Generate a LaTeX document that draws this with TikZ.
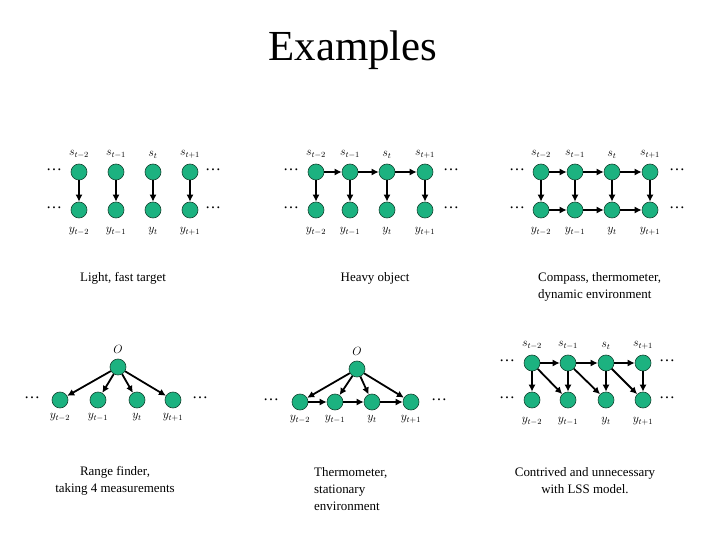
\documentclass[tikz,border=0pt]{standalone}
\usepackage{fontspec}
\setmainfont{Liberation Serif}
\usepackage{xcolor}
\usetikzlibrary{arrows.meta,positioning}
\definecolor{nodegreen}{RGB}{28,178,128}
\definecolor{nodeedge}{RGB}{20,70,50}

\begin{document}
\begin{tikzpicture}[x=1bp,y=-1bp,>={Latex[length=7bp,width=7bp]},
  var/.style={circle,draw=nodeedge,line width=0.6bp,fill=nodegreen,minimum size=16bp,inner sep=0pt},
  lbl/.style={font=\fontsize{12}{13}\selectfont,inner sep=1bp},
  up/.style={label={[lbl,label distance=4bp]above:$#1$}},
  down/.style={label={[lbl,label distance=8bp]below:$#1$}},
  capt/.style={font=\fontsize{13}{17}\selectfont,inner sep=0pt},
  dots/.style={font=\fontsize{16}{16}\selectfont,inner sep=0pt},
  arr/.style={->,line width=1.8bp}]
\useasboundingbox (0,0) rectangle (720,540);
\node[font=\fontsize{43}{50}\selectfont] (title) at (353,50) {Examples};

% light, fast target
\foreach \x/\t [count=\i] in {79/t-2,116/t-1,153/t,190/t+1} {
  \node[var,up={s_{\t}}] (as\i) at (\x,172) {};
  \node[var,down={y_{\t}}] (ay\i) at (\x,210) {};
  \draw[arr] (as\i) -- (ay\i);
}
\node[dots] (adl1) at (54,170) {\dots}; \node[dots] (adr1) at (213,170) {\dots};
\node[dots] (adl2) at (54,208) {\dots}; \node[dots] (adr2) at (213,208) {\dots};
\node[capt] (acap) at (123,278) {Light, fast target};

% heavy object
\foreach \x/\t [count=\i] in {316/t-2,350/t-1,387/t,425/t+1} {
  \node[var,up={s_{\t}}] (bs\i) at (\x,172) {};
  \node[var,down={y_{\t}}] (by\i) at (\x,210) {};
  \draw[arr] (bs\i) -- (by\i);
}
\foreach \i [evaluate=\i as \j using int(\i+1)] in {1,2,3} \draw[arr] (bs\i) -- (bs\j);
\node[dots] (bdl1) at (291,170) {\dots}; \node[dots] (bdr1) at (451,170) {\dots};
\node[dots] (bdl2) at (291,208) {\dots}; \node[dots] (bdr2) at (451,208) {\dots};
\node[capt] (bcap) at (375,278) {Heavy object};

% compass, thermometer
\foreach \x/\t [count=\i] in {541/t-2,575/t-1,612/t,650/t+1} {
  \node[var,up={s_{\t}}] (cs\i) at (\x,172) {};
  \node[var,down={y_{\t}}] (cy\i) at (\x,210) {};
  \draw[arr] (cs\i) -- (cy\i);
}
\foreach \i [evaluate=\i as \j using int(\i+1)] in {1,2,3} {
  \draw[arr] (cs\i) -- (cs\j); \draw[arr] (cy\i) -- (cy\j);
}
\node[dots] (cdl1) at (517,170) {\dots}; \node[dots] (cdr1) at (677,170) {\dots};
\node[dots] (cdl2) at (517,208) {\dots}; \node[dots] (cdr2) at (677,208) {\dots};
\node[capt,align=left,anchor=west] (ccap) at (538,287) {Compass, thermometer,\\dynamic environment};

% range finder
\node[var,up=O] (do) at (118,367) {};
\foreach \x/\t [count=\i] in {60/t-2,98/t-1,137/t,173/t+1} {
  \node[var,label={[lbl,label distance=4bp]below:$y_{\t}$}] (dy\i) at (\x,400) {};
  \draw[arr] (do) -- (dy\i);
}
\node[dots] (ddl) at (32,398) {\dots}; \node[dots] (ddr) at (200,398) {\dots};
\node[capt,align=center] (dcap) at (115,481) {Range finder,\\taking 4 measurements};

% thermometer, stationary
\node[var,up=O] (eo) at (357,369) {};
\foreach \x/\t [count=\i] in {300/t-2,335/t-1,372/t,411/t+1} {
  \node[var,label={[lbl,label distance=4bp]below:$y_{\t}$}] (ey\i) at (\x,402) {};
  \draw[arr] (eo) -- (ey\i);
}
\foreach \i [evaluate=\i as \j using int(\i+1)] in {1,2,3} \draw[arr] (ey\i) -- (ey\j);
\node[dots] (edl) at (271,400) {\dots}; \node[dots] (edr) at (439,400) {\dots};
\node[capt,align=left,anchor=west] (ecap) at (314,489) {Thermometer,\\stationary\\environment};

% contrived
\foreach \x/\t [count=\i] in {532/t-2,568/t-1,606/t,643/t+1} {
  \node[var,up={s_{\t}}] (fs\i) at (\x,363) {};
  \node[var,down={y_{\t}}] (fy\i) at (\x,400) {};
  \draw[arr] (fs\i) -- (fy\i);
}
\foreach \i [evaluate=\i as \j using int(\i+1)] in {1,2,3} {
  \draw[arr] (fs\i) -- (fs\j); \draw[arr] (fs\i) -- (fy\j);
}
\node[dots] (fdl1) at (507,361) {\dots}; \node[dots] (fdr1) at (667,361) {\dots};
\node[dots] (fdl2) at (507,398) {\dots}; \node[dots] (fdr2) at (667,398) {\dots};
\node[capt,align=center] (fcap) at (585,481) {Contrived and unnecessary\\with LSS model.};
\end{tikzpicture}
\end{document}
